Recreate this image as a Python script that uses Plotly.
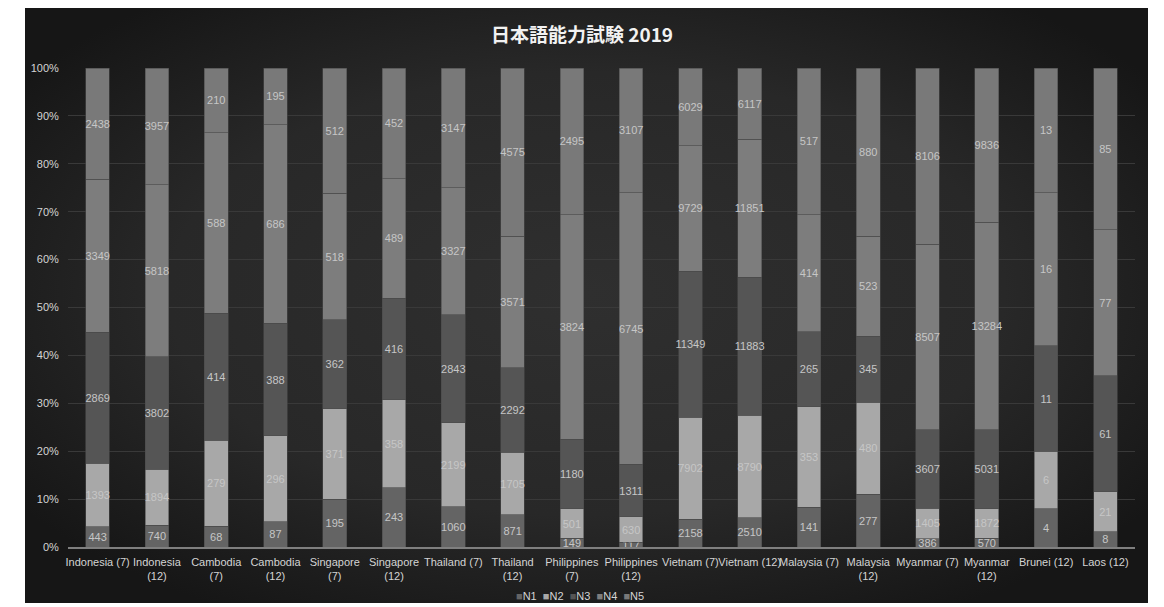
import base64
import plotly.graph_objects as go

# JLPT 2019 examinees by level, per country and session (July = 7, December = 12)
categories = [
    "Indonesia (7)", "Indonesia<br>(12)", "Cambodia<br>(7)", "Cambodia<br>(12)",
    "Singapore<br>(7)", "Singapore<br>(12)", "Thailand (7)", "Thailand<br>(12)",
    "Philippines<br>(7)", "Philippines<br>(12)", "Vietnam (7)", "Vietnam (12)",
    "Malaysia (7)", "Malaysia<br>(12)", "Myanmar (7)", "Myanmar<br>(12)",
    "Brunei (12)", "Laos (12)",
]

n1 = [443, 740, 68, 87, 195, 243, 1060, 871, 149, 117, 2158, 2510, 141, 277, 386, 570, 4, 8]
n2 = [1393, 1894, 279, 296, 371, 358, 2199, 1705, 501, 630, 7902, 8790, 353, 480, 1405, 1872, 6, 21]
n3 = [2869, 3802, 414, 388, 362, 416, 2843, 2292, 1180, 1311, 11349, 11883, 265, 345, 3607, 5031, 11, 61]
n4 = [3349, 5818, 588, 686, 518, 489, 3327, 3571, 3824, 6745, 9729, 11851, 414, 523, 8507, 13284, 16, 77]
n5 = [2438, 3957, 210, 195, 512, 452, 3147, 4575, 2495, 3107, 6029, 6117, 517, 880, 8106, 9836, 13, 85]

levels = ["N1", "N2", "N3", "N4", "N5"]
series = [n1, n2, n3, n4, n5]
colors = ["#646464", "#a8a8a8", "#555555", "#7d7d7d", "#797979"]

W, H = 1164, 607
L, R, T, B = 68, 29, 68, 60
pw, ph = W - L - R, H - T - B

fig = go.Figure()
for name, vals, col in zip(levels, series, colors):
    fig.add_trace(go.Bar(
        name=name,
        x=categories,
        y=vals,
        text=[str(v) for v in vals],
        texttemplate="%{text}",
        textposition="inside",
        insidetextanchor="middle",
        textangle=0,
        textfont=dict(family="Liberation Sans, Arial, sans-serif", size=11, color="#c6c6c6"),
        marker=dict(color=col, line=dict(color="#4a4a4a", width=0.6)),
        showlegend=False,
        hoverinfo="skip",
    ))

# Dark backdrop with a soft radial glow
svg = (
    "<svg xmlns='http://www.w3.org/2000/svg' width='1123' height='595' preserveAspectRatio='none'>"
    "<defs><radialGradient id='g' cx='50%' cy='48%' r='62%'>"
    "<stop offset='0' stop-color='#2f2f2f'/><stop offset='0.6' stop-color='#282828'/>"
    "<stop offset='1' stop-color='#161616'/></radialGradient></defs>"
    "<rect width='1123' height='595' fill='url(#g)'/></svg>"
)
src = "data:image/svg+xml;base64," + base64.b64encode(svg.encode()).decode()

bx0, bx1, by0, by1 = 25, 1148, 8, 603
fig.add_layout_image(dict(
    source=src, xref="paper", yref="paper",
    x=(bx0 - L) / pw, y=(H - B - by0) / ph,
    sizex=(bx1 - bx0) / pw, sizey=(by1 - by0) / ph,
    xanchor="left", yanchor="top", sizing="stretch", layer="below",
))

# Legend drawn as a compact text row of coloured squares
legend_text = "  ".join(
    f"<span style='color:{c}'>■</span>{n}" for n, c in zip(levels, colors)
)
fig.add_annotation(
    text=legend_text, xref="paper", yref="paper",
    x=(580 - L) / pw, y=(H - B - 596) / ph, xanchor="center", yanchor="middle",
    showarrow=False, font=dict(family="Liberation Sans, Arial, sans-serif", size=11, color="#d4d4d4"),
)

fig.update_layout(
    width=W, height=H,
    margin=dict(l=L, r=R, t=T, b=B),
    paper_bgcolor="white",
    plot_bgcolor="rgba(0,0,0,0)",
    barmode="stack",
    barnorm="percent",
    bargap=0.6,
    uniformtext=dict(minsize=11, mode="show"),
    title=dict(
        text="<b>日本語能力試験 2019</b>",
        x=0.5, xref="container", xanchor="center",
        y=1 - 35 / H, yref="container", yanchor="middle",
        font=dict(family="Noto Sans CJK JP, sans-serif", size=19, color="#f2f2f2"),
    ),
    font=dict(family="Liberation Sans, Arial, sans-serif", size=11, color="#d4d4d4"),
    xaxis=dict(
        showgrid=False, showline=True, linecolor="#7f7f7f", linewidth=1.5,
        tickangle=0,
        ticks="outside", ticklen=4, tickcolor="rgba(0,0,0,0)",
        tickfont=dict(size=11, color="#d4d4d4"),
        fixedrange=True,
    ),
    yaxis=dict(
        range=[0, 100], dtick=10, ticksuffix="%",
        showgrid=True, gridcolor="#393939", gridwidth=1,
        zeroline=False, showline=False,
        ticks="outside", ticklen=6, tickcolor="rgba(0,0,0,0)",
        tickfont=dict(size=11, color="#d4d4d4"),
        fixedrange=True,
    ),
)

fig.write_html("out.html")
